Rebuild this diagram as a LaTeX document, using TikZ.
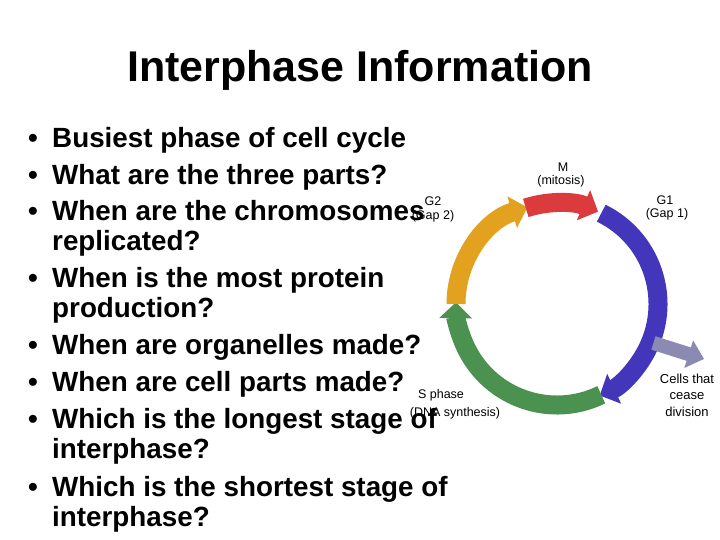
\documentclass[tikz,border=0pt]{standalone}
\usepackage{fontspec}
\setmainfont{Liberation Sans}
\usetikzlibrary{arrows.meta,calc}
\definecolor{cred}{HTML}{DC3B3E}
\definecolor{cblue}{HTML}{4336BA}
\definecolor{cgreen}{HTML}{4B9150}
\definecolor{corange}{HTML}{E2A21F}
\definecolor{cgray}{HTML}{8A8AB2}
\begin{document}
\begin{tikzpicture}[x=1pt,y=1pt,
  bl/.style={anchor=base west,inner sep=0pt,font=\fontsize{27.8}{32}\selectfont\bfseries},
  lab/.style={inner sep=0pt,font=\fontsize{12.5}{14}\selectfont},
  seg/.style={line width=19pt,-{Triangle[width=32pt,length=16pt]}}]
\useasboundingbox (0,0) rectangle (720,540);
\fill[white] (0,0) rectangle (720,540);
\node[inner sep=0pt,font=\fontsize{43}{48}\selectfont\bfseries] (title) at (360,470) {Interphase Information};
\foreach \y/\t/\b [count=\i] in {148/Busiest phase of cell cycle/1,185/What are the three parts?/1,221/When are the chromosomes/1,251/replicated?/0,288/When is the most protein/1,318/production?/0,355/When are organelles made?/1,392/When are cell parts made?/1,429/Which is the longest stage of/1,459/interphase?/0,497/Which is the shortest stage of/1,527/interphase?/0}{
  \node[bl] (t\i) at (52,540-\y) {\t};
  \ifnum\b=1 \node[bl] (b\i) at (28,540-\y) {•};\fi
}
\coordinate (c) at (557,236);
\draw[seg,cblue] (c)+(64:101) arc[start angle=64,end angle=-65,radius=101];
\draw[seg,cgreen] (c)+(-64:101) arc[start angle=-64,end angle=-181,radius=101];
\draw[seg,corange] (c)+(180:101) arc[start angle=180,end angle=107,radius=101];
\draw[seg,cred] (c)+(108:101) arc[start angle=108,end angle=66,radius=101];
\coordinate (gs) at ($(c)+(-22:104)$);
\coordinate (ge) at (704,181);
\draw[cgray,line width=14pt,-{Triangle[width=28pt,length=16pt]}] (gs) -- (ge);
\node[lab] (m) at (563,373) {M};
\node[lab] (mi) at (561,359) {(mitosis)};
\node[lab] (g2) at (433,339) {G2};
\node[lab] (g2b) at (433,324) {(Gap 2)};
\node[lab] (g1) at (665,340) {G1};
\node[lab] (g1b) at (667,326) {(Gap 1)};
\node[lab] (s) at (441,145) {S phase};
\node[lab] (sb) at (455,127) {(DNA synthesis)};
\node[lab,align=center,font=\fontsize{13}{16.5}\selectfont] (cc) at (687,145) {Cells that\\cease\\division};
\end{tikzpicture}
\end{document}
